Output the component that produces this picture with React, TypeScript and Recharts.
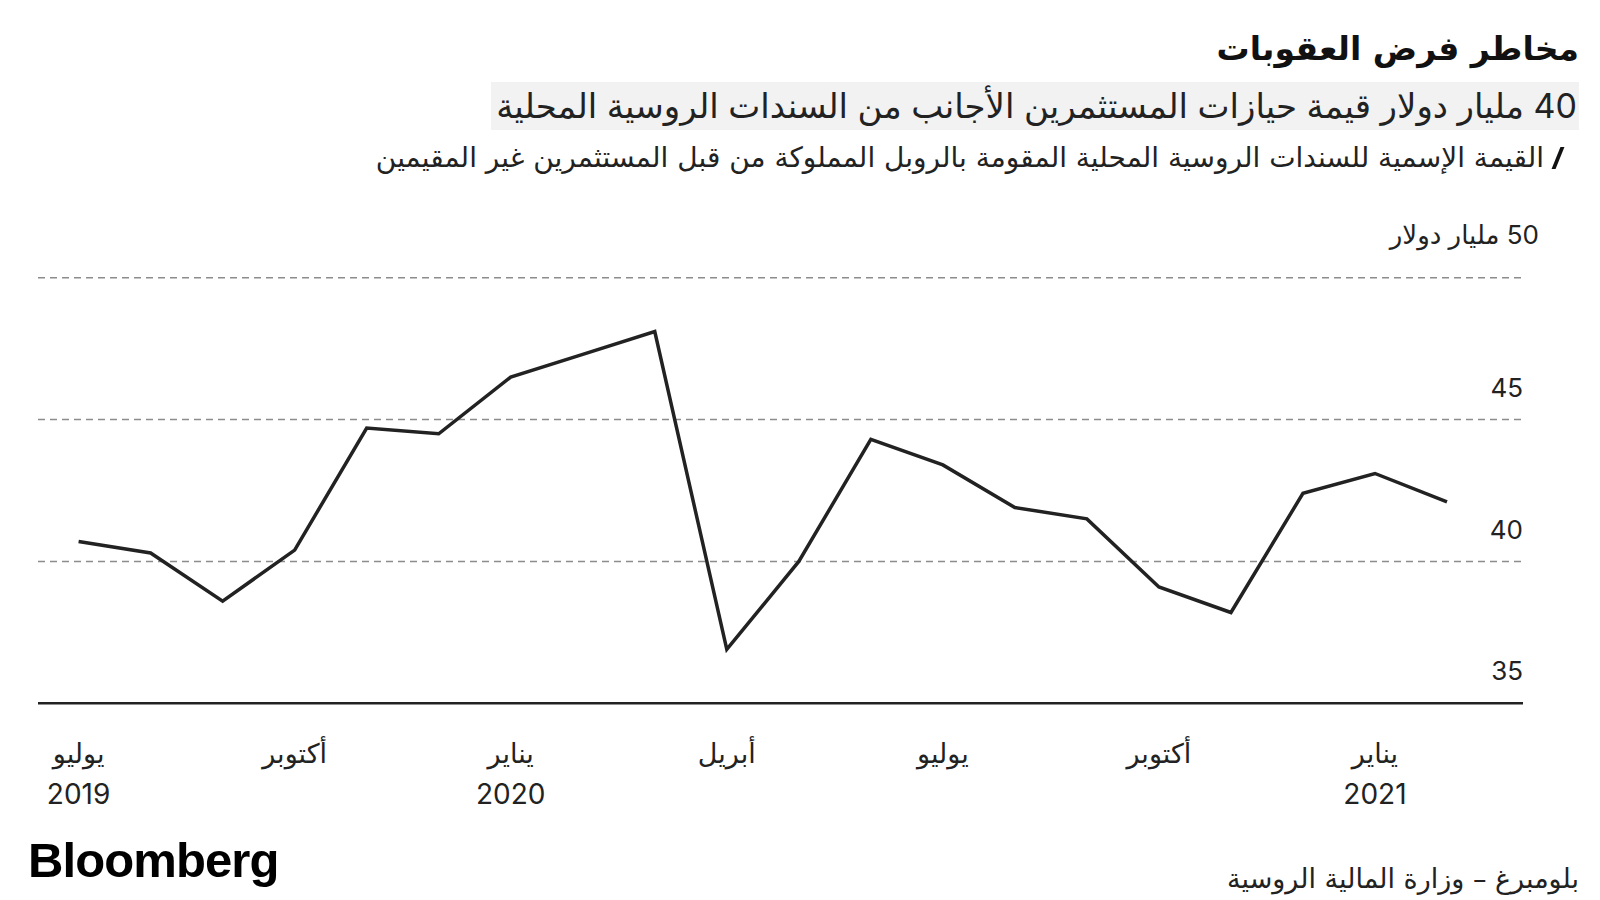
import React from 'react';
import { LineChart, Line, XAxis, YAxis, CartesianGrid } from 'recharts';

const months = [
  '2019-07', '2019-08', '2019-09', '2019-10', '2019-11', '2019-12',
  '2020-01', '2020-02', '2020-03', '2020-04', '2020-05', '2020-06',
  '2020-07', '2020-08', '2020-09', '2020-10', '2020-11', '2020-12',
  '2021-01', '2021-02',
];
const holdings = [
  40.7, 40.3, 38.6, 40.4, 44.7, 44.5,
  46.5, 47.3, 48.1, 36.9, 40.0, 44.3,
  43.4, 41.9, 41.5, 39.1, 38.2, 42.4,
  43.1, 42.1,
];

const tickMonths = ['2019-07', '2019-10', '2020-01', '2020-04', '2020-07', '2020-10', '2021-01'];
const tickNames = ['يوليو', 'أكتوبر', 'يناير', 'أبريل', 'يوليو', 'أكتوبر', 'يناير'];
const tickYears = ['2019', '', '2020', '', '', '', '2021'];

const yTicks = [35, 40, 45, 50];
const yUnit = 'مليار دولار';

const data = months.map((m, i) => ({ month: m, value: holdings[i] }));

const FONT = "Inter, 'DejaVu Sans', sans-serif";
const AR = "'DejaVu Sans', sans-serif";

const XTick = (props: any) => {
  const { x, y, payload } = props;
  const i = tickMonths.indexOf(payload.value);
  if (i < 0) return null;
  return (
    <g>
      <text x={x} y={y + 44} textAnchor="middle" dominantBaseline="middle" fontFamily={AR} fontSize={27} fill="#222">
        {tickNames[i]}
      </text>
      {tickYears[i] && (
        <text x={x} y={y + 85} textAnchor="middle" dominantBaseline="middle" fontFamily={FONT} fontSize={28} fill="#222">
          {tickYears[i]}
        </text>
      )}
    </g>
  );
};

const YTick = (props: any) => {
  const { x, y, payload } = props;
  const top = payload.value === 50;
  const label = top ? '\u202B' + payload.value + ' ' + yUnit + '\u202C' : String(payload.value);
  return (
    <text
      x={top ? x + 16 : x}
      y={top ? y - 41 : y - 30}
      textAnchor="end"
      dominantBaseline="middle"
      fontFamily={FONT}
      fontSize={26}
      fill="#222"
    >
      {label}
    </text>
  );
};

export default function App() {
  return (
    <div style={{ position: 'absolute', left: 0, top: 0, width: 1600, height: 900, background: '#fff', fontFamily: FONT, color: '#111' }}>
      <div dir="rtl" style={{ position: 'absolute', right: 21, top: 24, fontFamily: AR, fontWeight: 700, fontSize: 33, lineHeight: '50px' }}>
        مخاطر فرض العقوبات
      </div>
      <div
        dir="rtl"
        style={{ position: 'absolute', right: 21, top: 82, width: 1088, height: 48, background: '#f2f2f2', fontFamily: FONT, fontSize: 34, lineHeight: '48px', color: '#222', boxSizing: 'border-box', paddingRight: 2, whiteSpace: 'nowrap' }}
      >
        40 مليار دولار قيمة حيازات المستثمرين الأجانب من السندات الروسية المحلية
      </div>
      <div dir="rtl" style={{ position: 'absolute', right: 40, top: 140, fontFamily: AR, fontSize: 28, lineHeight: '36px', color: '#222', display: 'flex', alignItems: 'center', whiteSpace: 'nowrap' }}>
        <span style={{ display: 'inline-block', width: 4, height: 22, background: '#111', transform: 'skewX(-22deg)', marginLeft: 12 }} />
        <span>القيمة الإسمية للسندات الروسية المحلية المقومة بالروبل المملوكة من قبل المستثمرين غير المقيمين</span>
      </div>

      <div style={{ position: 'absolute', left: 0, top: 0 }}>
        <LineChart width={1600} height={900} data={data} margin={{ top: 277.7, right: 76, bottom: 96.7, left: 38 }}>
          <CartesianGrid vertical={false} stroke="#8c8c8c" strokeWidth={1.5} strokeDasharray="7 5" />
          <XAxis
            dataKey="month"
            type="category"
            interval={0}
            height={100}
            padding={{ left: 40.6, right: 76 }}
            axisLine={{ stroke: '#222', strokeWidth: 2.5 }}
            tickLine={false}
            tick={<XTick />}
          />
          <YAxis
            orientation="right"
            width={1}
            domain={[35, 50]}
            ticks={yTicks}
            axisLine={false}
            tickLine={false}
            tickSize={0}
            tickMargin={0}
            tick={<YTick />}
            interval={0}
          />
          <Line type="linear" dataKey="value" stroke="#222" strokeWidth={3.5} dot={false} isAnimationActive={false} />
        </LineChart>
      </div>

      <div style={{ position: 'absolute', left: 28, top: 830, fontFamily: "'Liberation Sans', Arial, sans-serif", fontWeight: 700, fontSize: 49, letterSpacing: -0.9, lineHeight: '60px', color: '#000' }}>
        Bloomberg
      </div>
      <div dir="rtl" style={{ position: 'absolute', right: 21, top: 861, fontFamily: AR, fontSize: 27, lineHeight: '36px', color: '#222', whiteSpace: 'nowrap' }}>
        بلومبرغ – وزارة المالية الروسية
      </div>
    </div>
  );
}
